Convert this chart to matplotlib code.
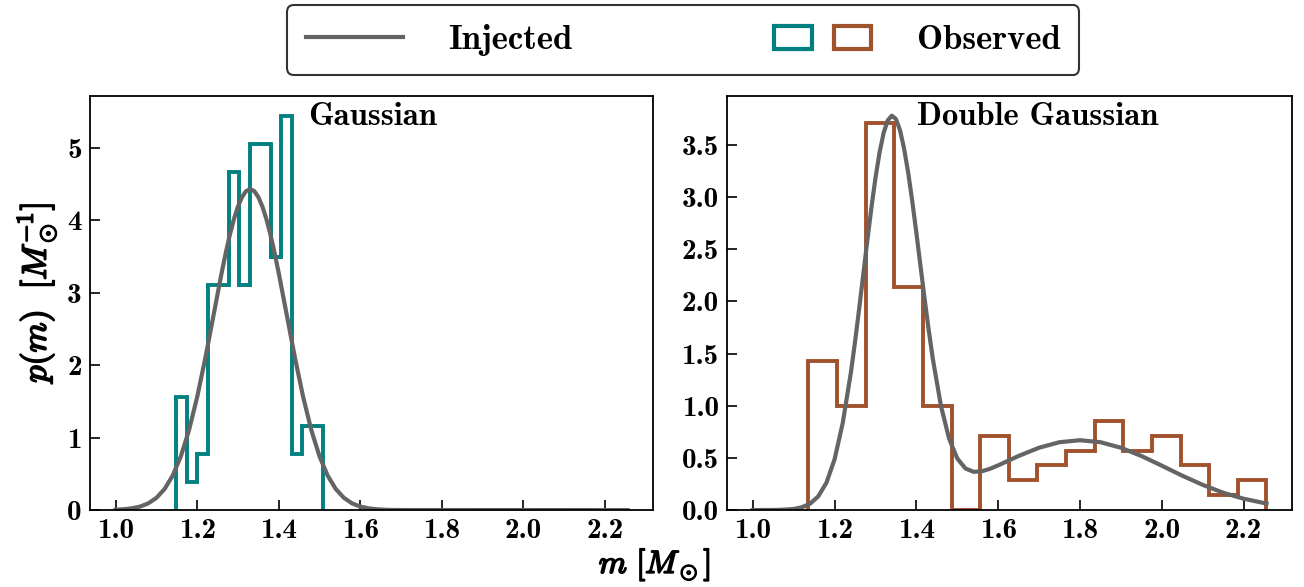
import matplotlib
matplotlib.use("Agg")
import matplotlib.pyplot as plt
import matplotlib.patheffects as pe
from matplotlib.legend_handler import HandlerTuple
from matplotlib.lines import Line2D
from matplotlib.patches import Patch

plt.rcParams["mathtext.fontset"] = "cm"
plt.rcParams["font.family"] = "cmb10"
plt.rcParams["axes.unicode_minus"] = False

# injected population curves
mass_grid_single = [1.00, 1.02, 1.04, 1.06, 1.08, 1.10, 1.12, 1.14, 1.16, 1.18,
                    1.20, 1.22, 1.24, 1.26, 1.27, 1.28, 1.29, 1.30, 1.31, 1.32,
                    1.33, 1.34, 1.35, 1.36, 1.37, 1.38, 1.39, 1.40, 1.42, 1.44,
                    1.46, 1.48, 1.50, 1.52, 1.54, 1.56, 1.58, 1.60, 1.62, 1.64,
                    1.66, 1.68, 1.70, 2.256]
injected_single = [0.005, 0.012, 0.025, 0.049, 0.093, 0.169, 0.291, 0.477, 0.744, 1.105,
                   1.561, 2.099, 2.687, 3.274, 3.547, 3.797, 4.013, 4.190, 4.322, 4.403,
                   4.430, 4.403, 4.322, 4.190, 4.013, 3.797, 3.547, 3.274, 2.687, 2.099,
                   1.561, 1.105, 0.744, 0.477, 0.291, 0.169, 0.093, 0.049, 0.025, 0.012,
                   0.005, 0.002, 0.001, 0.0]

mass_grid_double = [1.00, 1.02, 1.04, 1.06, 1.08, 1.10, 1.12, 1.14, 1.16, 1.18,
                    1.20, 1.22, 1.24, 1.25, 1.26, 1.27, 1.28, 1.29, 1.30, 1.31,
                    1.32, 1.33, 1.34, 1.35, 1.36, 1.37, 1.38, 1.39, 1.40, 1.41,
                    1.42, 1.43, 1.44, 1.46, 1.48, 1.50, 1.52, 1.54, 1.56, 1.58,
                    1.60, 1.65, 1.70, 1.75, 1.80, 1.85, 1.90, 1.95, 2.00, 2.05,
                    2.10, 2.15, 2.20, 2.256]
injected_double = [0.000, 0.001, 0.001, 0.002, 0.005, 0.011, 0.027, 0.061, 0.131, 0.261,
                   0.486, 0.835, 1.321, 1.611, 1.925, 2.251, 2.580, 2.896, 3.184, 3.428,
                   3.616, 3.736, 3.781, 3.749, 3.642, 3.466, 3.235, 2.961, 2.658, 2.343,
                   2.030, 1.731, 1.456, 1.001, 0.685, 0.495, 0.399, 0.367, 0.372, 0.396,
                   0.429, 0.519, 0.598, 0.651, 0.670, 0.651, 0.598, 0.519, 0.426, 0.330,
                   0.242, 0.167, 0.109, 0.063]

# observed histograms (density)
gauss_edges = [1.149, 1.175, 1.200, 1.226, 1.252, 1.278, 1.303, 1.329,
               1.355, 1.380, 1.406, 1.432, 1.458, 1.483, 1.509]
gauss_heights = [1.556, 0.389, 0.778, 3.111, 3.111, 4.667, 3.111,
                 5.056, 5.056, 3.500, 5.444, 0.778, 1.167, 1.167]

double_edges = [1.136, 1.206, 1.276, 1.346, 1.416, 1.486, 1.556, 1.626, 1.696,
                1.766, 1.836, 1.906, 1.976, 2.046, 2.116, 2.186, 2.256]
double_heights = [1.429, 1.000, 3.714, 2.143, 1.000, 0.000, 0.714, 0.286,
                  0.429, 0.571, 0.857, 0.571, 0.714, 0.429, 0.143, 0.286]

x_ticks = [1.0, 1.2, 1.4, 1.6, 1.8, 2.0, 2.2]
y_ticks_single = [0, 1, 2, 3, 4, 5]
y_ticks_double = [0.0, 0.5, 1.0, 1.5, 2.0, 2.5, 3.0, 3.5]

grey = "#646464"
teal = "#008080"
sienna = "#a0522d"

fig = plt.figure(figsize=(13.04, 5.87), dpi=100)
ax1 = fig.add_axes([0.069, 0.131, 0.432, 0.7055])
ax2 = fig.add_axes([0.5575, 0.131, 0.4335, 0.7055])

panels = [
    (ax1, mass_grid_single, injected_single, gauss_edges, gauss_heights, teal,
     "Gaussian", 0.387, y_ticks_single),
    (ax2, mass_grid_double, injected_double, double_edges, double_heights, sienna,
     "Double Gaussian", 0.336, y_ticks_double),
]

for ax, grid, inj, edges, heights, col, name, tx, yt in panels:
    ax.plot(grid, inj, color=grey, lw=3)
    ax.stairs(heights, edges, color=col, lw=2.8, baseline=0)
    ax.set_xlim(0.937, 2.319)
    ax.set_xticks(x_ticks)
    ax.set_yticks(yt)
    ax.tick_params(direction="in", length=7, width=1.2, labelsize=21, pad=6)
    for sp in ax.spines.values():
        sp.set_linewidth(1.3)
    ax.text(tx, 0.95, name, transform=ax.transAxes, ha="left", va="center", fontsize=23.5)

bold = [pe.withStroke(linewidth=1.3, foreground="black")]
fig.text(0.502, 0.037, r"$m\ [M_\odot]$", ha="center", va="center", fontsize=23, path_effects=bold)
fig.text(0.028, 0.502, r"$p(m)\ \ [M_\odot^{-1}]$", ha="center", va="center",
         rotation=90, fontsize=24.5, path_effects=bold)

h_inj = Line2D([], [], color=grey, lw=3)
h_obs = (Patch(facecolor="white", edgecolor=teal, lw=3),
         Patch(facecolor="white", edgecolor=sienna, lw=3))
leg = fig.legend([h_inj, h_obs], ["Injected", "Observed"], loc="upper center",
                 bbox_to_anchor=(0.524, 0.997), ncol=2,
                 handler_map={tuple: HandlerTuple(ndivide=None, pad=0.65)},
                 fontsize=25, handlelength=2.8, handleheight=0.65, handletextpad=1.3,
                 columnspacing=5.8, fancybox=True, framealpha=1, borderpad=0.55,
                 borderaxespad=0.1)
leg.get_frame().set_edgecolor("#333333")
leg.get_frame().set_linewidth(1.5)

fig.savefig("out.png", dpi=100)
